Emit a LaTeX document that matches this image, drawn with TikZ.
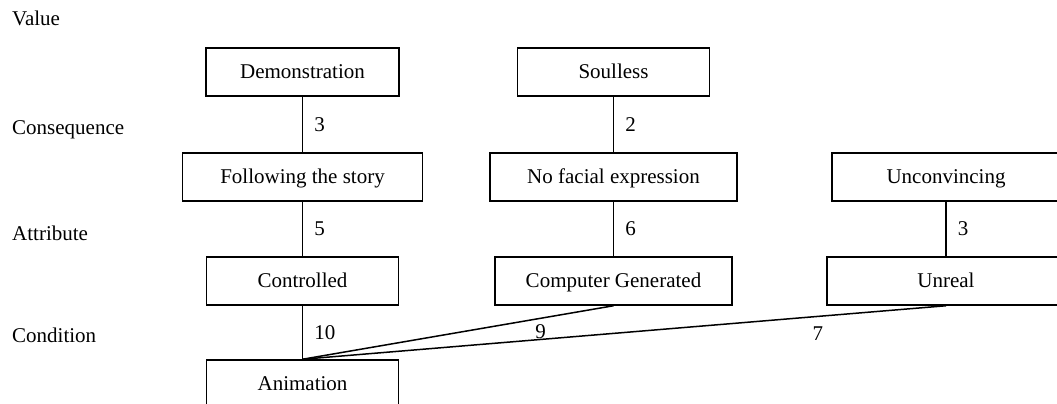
\documentclass[tikz,border=0pt]{standalone}
\usepackage{fontspec}
\setmainfont{Liberation Serif}
\begin{document}
\begin{tikzpicture}[x=1pt,y=-1pt,
  every node/.style={font=\fontsize{21}{25}\selectfont},
  box/.style={draw, line width=1.5pt, inner sep=0pt, minimum height=48pt,
    text height=13pt, text depth=0pt},
  level/.style={anchor=west, inner sep=0pt},
  link/.style={line width=1.5pt},
  count/.style={anchor=west, inner sep=0pt, xshift=11pt}]
  \clip (0,0) rectangle (1057,404);

  % ladder levels
  \node[level] (lvalue) at (12,18) {Value};
  \node[level] (lcons)  at (12,130) {Consequence};
  \node[level] (lattr)  at (12,233) {Attribute};
  \node[level] (lcond)  at (12,335) {Condition};

  % values
  \node[box, minimum width=193pt] (demo) at (302.5,72) {Demonstration};
  \node[box, minimum width=192pt] (soul) at (613.5,72) {Soulless};

  % consequences
  \node[box, minimum width=240pt] (follow) at (302.5,177) {Following the story};
  \node[box, minimum width=247pt] (nfe)    at (613.5,177) {No facial expression};
  \node[box, minimum width=228pt] (unconv) at (946,177)   {Unconvincing};

  % attributes
  \node[box, minimum width=192pt] (ctrl)   at (302.5,281) {Controlled};
  \node[box, minimum width=237pt] (cg)     at (613.5,281) {Computer Generated};
  \node[box, minimum width=238pt] (unreal) at (946,281)   {Unreal};

  % condition
  \node[box, minimum width=192pt] (anim) at (302.5,384) {Animation};

  % links with counts
  \draw[link] (demo.south) -- node[count, midway] {3} (follow.north);
  \draw[link] (soul.south) -- node[count, midway] {2} (nfe.north);
  \draw[link] (follow.south) -- node[count, midway] {5} (ctrl.north);
  \draw[link] (nfe.south) -- node[count, midway] {6} (cg.north);
  \draw[link] (unconv.south) -- node[count, midway] {3} (unreal.north);
  \draw[link] (ctrl.south) -- node[count, midway] {10} (anim.north);
  \draw[link] (anim.north) -- node[pos=0.766, inner sep=0pt, yshift=-13pt] {9} (cg.south);
  \draw[link] (anim.north) -- node[pos=0.801, inner sep=0pt, yshift=-17pt] {7} (unreal.south);
\end{tikzpicture}
\end{document}
